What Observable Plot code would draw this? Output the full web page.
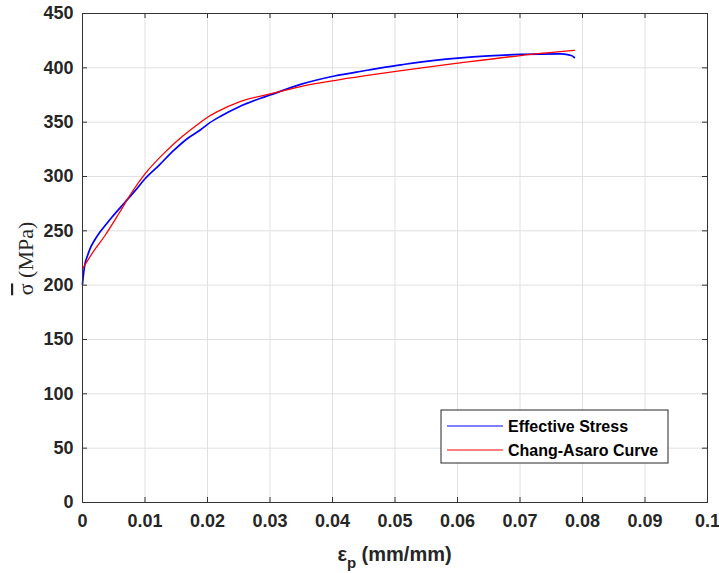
<!DOCTYPE html>
<html>
<head>
<meta charset="utf-8">
<script src="https://cdn.jsdelivr.net/npm/d3@7"></script>
<script src="https://cdn.jsdelivr.net/npm/@observablehq/plot@0.6"></script>
<style>
  html, body { margin: 0; padding: 0; background: #fff; }
</style>
</head>
<body>
<div id="chart"></div>
<script>
// Effective Stress (measured)
const effStrain = [0, 0.0002, 0.0004, 0.0008, 0.0012, 0.002, 0.0026, 0.0035, 0.0047, 0.0068, 0.0085, 0.01, 0.0122, 0.0146, 0.0168, 0.0189, 0.02, 0.0221, 0.025, 0.0285, 0.030, 0.0349, 0.0403, 0.0456, 0.0478, 0.051, 0.0531, 0.0601, 0.065, 0.0701, 0.0766, 0.0782, 0.0787];
const effStress = [201, 212, 219.6, 227, 233.4, 242, 247.3, 254, 262.5, 276.3, 287.5, 297.9, 310.1, 324, 335, 343, 348, 355.5, 364, 372, 375, 384.8, 392.5, 397.8, 400, 402.8, 404.6, 409, 411, 412.3, 412.9, 411.3, 409.5];

// Chang-Asaro fitted curve
const caStrain = [0, 0.0015, 0.0036, 0.0058, 0.0079, 0.01, 0.0135, 0.016, 0.0189, 0.02, 0.0215, 0.025, 0.030, 0.0349, 0.0403, 0.0456, 0.051, 0.0601, 0.0701, 0.0787];
const caStress = [215, 228.8, 245.7, 265.7, 285.5, 302.4, 324, 337, 350, 354.5, 359.5, 368.5, 376, 382.8, 388.3, 393, 397.5, 404.3, 411.3, 416];

const xTicks = [0, 0.01, 0.02, 0.03, 0.04, 0.05, 0.06, 0.07, 0.08, 0.09, 0.1];
const xTickLabels = ["0", "0.01", "0.02", "0.03", "0.04", "0.05", "0.06", "0.07", "0.08", "0.09", "0.1"];
const yTicks = [0, 50, 100, 150, 200, 250, 300, 350, 400, 450];
const yTickLabels = ["0", "50", "100", "150", "200", "250", "300", "350", "400", "450"];

const seriesNames = ["Effective Stress", "Chang-Asaro Curve"];
const seriesColors = ["#0000ff", "#ff0000"];

const effData = effStrain.map((e, i) => ({e, s: effStress[i]}));
const caData = caStrain.map((e, i) => ({e, s: caStress[i]}));

const W = 719, H = 573;
const mL = 82, mR = 12, mT = 13, mB = 71;
const plotW = W - mL - mR, plotH = H - mT - mB;
const axisColor = "#333333";
const textColor = "#262626";

const svg = Plot.plot({
  width: W, height: H,
  marginLeft: mL, marginRight: mR, marginTop: mT, marginBottom: mB,
  style: {fontFamily: "'Liberation Sans', Arial, sans-serif", background: "#fff", color: textColor, overflow: "visible"},
  x: {domain: [0, 0.1]},
  y: {domain: [0, 450]},
  marks: [
    Plot.gridX(xTicks, {stroke: "#e0e0e0", strokeOpacity: 1}),
    Plot.gridY(yTicks, {stroke: "#e0e0e0", strokeOpacity: 1}),
    Plot.line(effData, {x: "e", y: "s", stroke: seriesColors[0], strokeWidth: 1.7, curve: "monotone-x"}),
    Plot.line(caData, {x: "e", y: "s", stroke: seriesColors[1], strokeWidth: 1.3, curve: "monotone-x"}),
    Plot.frame({stroke: axisColor, strokeWidth: 1}),
    Plot.tickX(xTicks, {x: d => d, insetTop: plotH - 5, stroke: axisColor}),
    Plot.tickX(xTicks, {x: d => d, insetBottom: plotH - 5, stroke: axisColor}),
    Plot.tickY(yTicks, {y: d => d, insetRight: plotW - 5, stroke: axisColor}),
    Plot.tickY(yTicks, {y: d => d, insetLeft: plotW - 5, stroke: axisColor}),
    Plot.axisX({ticks: xTicks, tickSize: 0, tickPadding: 12, label: null,
      tickFormat: (d, i) => xTickLabels[i], fontSize: 18, fontWeight: "bold", fill: textColor}),
    Plot.axisY({ticks: yTicks, tickSize: 0, tickPadding: 9, label: null,
      tickFormat: (d, i) => yTickLabels[i], fontSize: 18, fontWeight: "bold", fill: textColor})
  ]
});

const s = d3.select(svg);

// x-axis label with subscript
const xl = s.append("text")
  .attr("x", mL + plotW / 2)
  .attr("y", 561)
  .attr("text-anchor", "middle")
  .attr("fill", textColor)
  .style("font", "bold 20px 'Liberation Sans', Arial, sans-serif");
xl.append("tspan").text("ε");
xl.append("tspan").attr("dy", 7).style("font-size", "15px").text("p");
xl.append("tspan").attr("dy", -7).text(" (mm/mm)");

// y-axis label
const yl = s.append("text")
  .attr("transform", `translate(33,${mT + plotH / 2 + 1}) rotate(-90)`)
  .attr("text-anchor", "middle")
  .attr("fill", textColor)
  .style("font", "22px 'Liberation Serif', 'Times New Roman', serif");
yl.append("tspan").style("text-decoration", "overline").text("σ");
yl.append("tspan").text(" (MPa)");

// legend
const lg = s.append("g");
lg.append("rect").attr("x", 441).attr("y", 410).attr("width", 227).attr("height", 53)
  .attr("fill", "#fff").attr("stroke", textColor).attr("stroke-width", 1);
seriesNames.forEach((name, i) => {
  const cy = 426 + i * 24;
  lg.append("line").attr("x1", 447).attr("x2", 503).attr("y1", cy).attr("y2", cy)
    .attr("stroke", seriesColors[i]).attr("stroke-width", 1);
  lg.append("text").attr("x", 508).attr("y", cy).attr("dy", "0.35em")
    .attr("text-anchor", "start")
    .attr("fill", "#000")
    .style("font", "bold 16px 'Liberation Sans', Arial, sans-serif")
    .text(name);
});

document.getElementById("chart").appendChild(svg);
</script>
</body>
</html>
